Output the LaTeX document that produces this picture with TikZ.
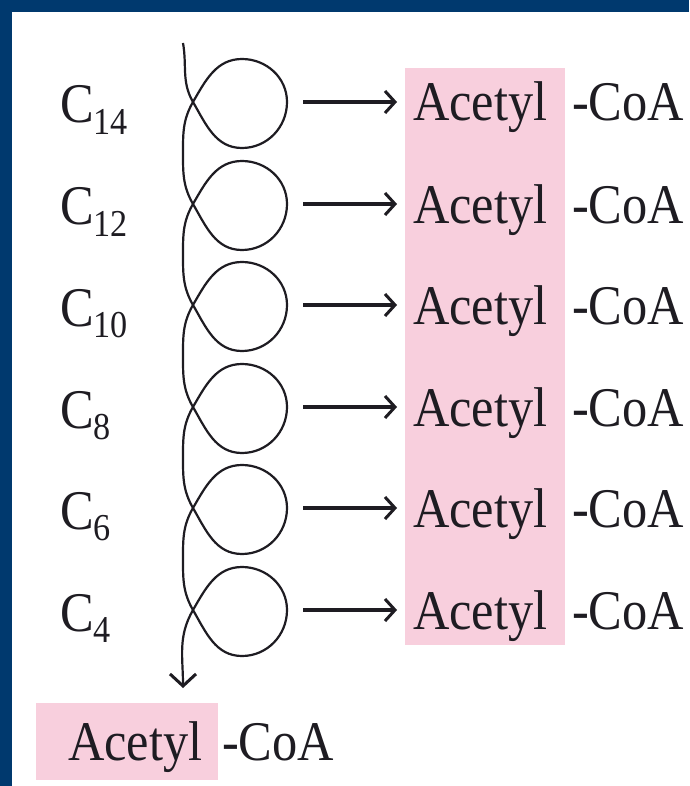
\documentclass[tikz,border=0pt]{standalone}
\usepackage{fontspec}
\setmainfont{Liberation Serif}[FakeStretch=0.9]
\usetikzlibrary{positioning,calc,arrows.meta}
\definecolor{frameblue}{RGB}{0,57,110}
\definecolor{acpink}{RGB}{248,207,221}
\definecolor{ink}{RGB}{30,28,34}
\newcommand{\csub}[1]{\raisebox{-0.2em}{\fontsize{38}{40}\selectfont #1}}
\tikzset{font=\fontsize{56}{60}\selectfont}
\tikzset{spiral/.style={line width=2.2pt, draw=ink},
	arr/.style={->, >={Straight Barb[length=10pt,width=22pt,line width=3pt]}, line width=3.4pt, draw=ink}}

\begin{document}
\begin{tikzpicture}[x=1pt,y=1pt]
	\useasboundingbox (0,0) rectangle (689,-786);
	\fill[frameblue] (0,0) rectangle (689,-786);
	\fill[white] (12,-12) rectangle (689,-786);
	\fill[acpink] (405,-68) rectangle (565,-645);
	\fill[acpink] (36,-703) rectangle (218,-780);
	\begin{scope}
		\tikzstyle{every node}=[inner sep=0pt, anchor=base west, text=ink]
		\node (c14) at (60, -123) {C\csub{14}};
		\node (c12) at (60, -225) {C\csub{12}};
		\node (c10) at (60, -326) {C\csub{10}};
		\node (c8) at (60, -428) {C\csub{8}};
		\node (c6) at (60, -529) {C\csub{6}};
		\node (c4) at (60, -631) {C\csub{4}};

		\node (a1) at (413, -121) {Acetyl};
		\node (a2) at (413, -223) {Acetyl};
		\node (a3) at (413, -324) {Acetyl};
		\node (a4) at (413, -426) {Acetyl};
		\node (a5) at (413, -527) {Acetyl};
		\node (a6) at (413, -629) {Acetyl};
		\node (coa1) at (572, -121) {-CoA};
		\node (coa2) at (572, -223) {-CoA};
		\node (coa3) at (572, -324) {-CoA};
		\node (coa4) at (572, -426) {-CoA};
		\node (coa5) at (572, -527) {-CoA};
		\node (coa6) at (572, -629) {-CoA};

		\node (aend) at (68, -760) {Acetyl};
		\node (coaend) at (222, -760) {-CoA};

		% the spiral
		\coordinate (top) at (183, -43);
		\coordinate (x1) at (193, -102);
		\coordinate (x2) at (193, -204);
		\coordinate (x3) at (193, -305);
		\coordinate (x4) at (193, -407);
		\coordinate (x5) at (193, -508);
		\coordinate (x6) at (193, -610);
		\coordinate (r1) at (287, -102);
		\coordinate (r2) at (287, -204);
		\coordinate (r3) at (287, -305);
		\coordinate (r4) at (287, -407);
		\coordinate (r5) at (287, -508);
		\coordinate (r6) at (287, -610);
		\coordinate (l1) at (183, -153);
		\coordinate (l2) at (183, -254);
		\coordinate (l3) at (183, -356);
		\coordinate (l4) at (183, -457);
		\coordinate (l5) at (183, -559);
		\coordinate (bot) at (183, -688);

		\draw[spiral, ->, >={Straight Barb[length=12pt,width=26pt,line width=3pt]}] (top) to[out=-80,in=120] (x1)
			to[out=-60,in=180] ++(49,-46) to[out=0,in=-90] (r1) to[out=90,in=0] ++(-45,43) to[out=180,in=60] (x1)
			to[out=240,in=90] (l1) to[out=-90,in=120] (x2)
			to[out=-60,in=180] ++(49,-46) to[out=0,in=-90] (r2) to[out=90,in=0] ++(-45,43) to[out=180,in=60] (x2)
			to[out=240,in=90] (l2) to[out=-90,in=120] (x3)
			to[out=-60,in=180] ++(49,-46) to[out=0,in=-90] (r3) to[out=90,in=0] ++(-45,43) to[out=180,in=60] (x3)
			to[out=240,in=90] (l3) to[out=-90,in=120] (x4)
			to[out=-60,in=180] ++(49,-46) to[out=0,in=-90] (r4) to[out=90,in=0] ++(-45,43) to[out=180,in=60] (x4)
			to[out=240,in=90] (l4) to[out=-90,in=120] (x5)
			to[out=-60,in=180] ++(49,-46) to[out=0,in=-90] (r5) to[out=90,in=0] ++(-45,43) to[out=180,in=60] (x5)
			to[out=240,in=90] (l5) to[out=-90,in=120] (x6)
			to[out=-60,in=180] ++(49,-46) to[out=0,in=-90] (r6) to[out=90,in=0] ++(-45,43) to[out=180,in=60] (x6)
			to[out=240,in=90] (bot);

		\draw[arr] ($(r1)+(16,0)$) -- ($(r1 -| a1.west)+(-16,0)$);
		\draw[arr] ($(r2)+(16,0)$) -- ($(r2 -| a2.west)+(-16,0)$);
		\draw[arr] ($(r3)+(16,0)$) -- ($(r3 -| a3.west)+(-16,0)$);
		\draw[arr] ($(r4)+(16,0)$) -- ($(r4 -| a4.west)+(-16,0)$);
		\draw[arr] ($(r5)+(16,0)$) -- ($(r5 -| a5.west)+(-16,0)$);
		\draw[arr] ($(r6)+(16,0)$) -- ($(r6 -| a6.west)+(-16,0)$);
	\end{scope}
\end{tikzpicture}
\end{document}
